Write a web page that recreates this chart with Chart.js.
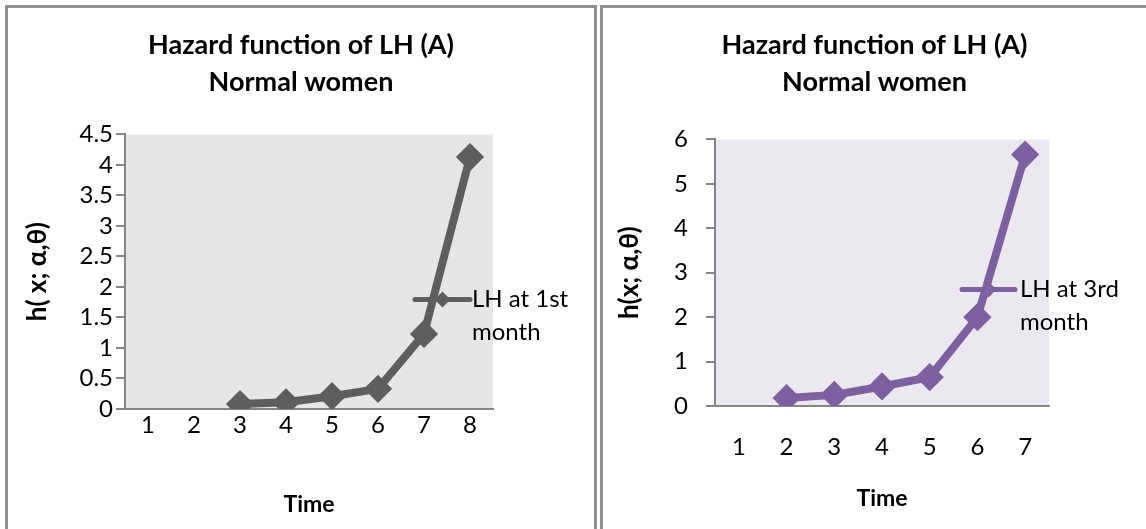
<!DOCTYPE html>
<html>
<head>
<meta charset="utf-8">
<script src="https://cdn.jsdelivr.net/npm/chart.js@4.4.1/dist/chart.umd.min.js"></script>
<style>
  html, body { margin: 0; padding: 0; background: #fff; overflow: hidden; width: 1146px; height: 529px; }
  .panel { position: absolute; top: 5px; border: 3px solid #8f8f8f; border-bottom: none; background: #fff; }
  #panelA { left: 5px; width: 586px; height: 521px; }
  #panelB { left: 600px; width: 543px; height: 521px; }
  canvas { display: block; }
</style>
</head>
<body>
<div class="panel" id="panelA"><canvas id="chartA" width="586" height="521"></canvas></div>
<div class="panel" id="panelB"><canvas id="chartB" width="543" height="521"></canvas></div>
<script>
// Shared title
const chartTitle = ['Hazard function of LH (A)', 'Normal women'];
const timeTitle = 'Time';

// LH at 1st month
const timeA = ['1', '2', '3', '4', '5', '6', '7', '8'];
const hazardA = [null, null, 0.08, 0.11, 0.21, 0.33, 1.23, 4.13];
const legendA = ['LH at 1st', 'month'];
const yTitleA = 'h( x; \u03b1,\u03b8)';
const yTicksA = ['0', '0.5', '1', '1.5', '2', '2.5', '3', '3.5', '4', '4.5'];
const yStepA = 0.5;

// LH at 3rd month
const timeB = ['1', '2', '3', '4', '5', '6', '7'];
const hazardB = [null, 0.18, 0.25, 0.44, 0.65, 2.0, 5.66];
const legendB = ['LH at 3rd', 'month'];
const yTitleB = 'h(x; \u03b1,\u03b8)';
const yTicksB = ['0', '1', '2', '3', '4', '5', '6'];
const yStepB = 1;

Chart.defaults.font.family = 'Lato, "DejaVu Sans", sans-serif';
Chart.defaults.color = '#000';

// Fills the plotting area with its background colour
const plotBackground = {
  id: 'plotBackground',
  beforeDraw(chart, args, opts) {
    const { ctx, chartArea: a } = chart;
    ctx.save();
    ctx.fillStyle = opts.color;
    ctx.fillRect(a.left, a.top, a.right - a.left, a.bottom - a.top);
    ctx.restore();
  }
};

// Legend entry drawn over the right edge of the plot: line, diamond, two text lines
const sideLegend = {
  id: 'sideLegend',
  afterDatasetsDraw(chart, args, o) {
    const { ctx, chartArea: a } = chart;
    const ds = chart.data.datasets[0];
    const y = a.top + o.dy;
    const x0 = a.right + o.lineStart, x1 = a.right + o.lineEnd;
    ctx.save();
    ctx.strokeStyle = ds.borderColor;
    ctx.lineWidth = 5;
    ctx.lineCap = 'round';
    ctx.beginPath();
    ctx.moveTo(x0, y);
    ctx.lineTo(x1, y);
    ctx.stroke();
    const cx = (x0 + x1) / 2, r = 8;
    ctx.fillStyle = ds.borderColor;
    ctx.beginPath();
    ctx.moveTo(cx - r, y); ctx.lineTo(cx, y - r); ctx.lineTo(cx + r, y); ctx.lineTo(cx, y + r);
    ctx.closePath();
    ctx.fill();
    ctx.fillStyle = '#000';
    ctx.font = '24px Lato, "DejaVu Sans", sans-serif';
    ctx.textAlign = 'left';
    ctx.textBaseline = 'middle';
    o.text.forEach((t, i) => ctx.fillText(t, a.right + o.textX, y + i * o.lineGap));
    ctx.restore();
  }
};

function makeChart(id, s) {
  const maxVal = s.step * (s.ticks.length - 1);
  return new Chart(document.getElementById(id), {
    type: 'line',
    data: {
      labels: s.labels,
      datasets: [{
        label: s.legend.join(' '),
        data: s.values,
        yAxisID: 'y',
        borderColor: s.color,
        backgroundColor: s.color,
        borderWidth: 8,
        tension: 0,
        pointStyle: 'rectRot',
        pointRadius: 12,
        pointBorderWidth: 3,
        pointBackgroundColor: s.color,
        pointBorderColor: s.color
      }]
    },
    options: {
      responsive: false,
      animation: false,
      layout: { padding: 0 },
      plugins: {
        legend: { display: false },
        tooltip: { enabled: false },
        title: {
          display: true,
          text: chartTitle,
          color: '#000',
          font: { size: 27, weight: 'bold', lineHeight: 1.37 },
          padding: { top: 18.5, bottom: s.titleGap }
        },
        plotBackground: { color: s.bg },
        sideLegend: s.legendPos
      },
      scales: {
        x: {
          offset: true,
          grid: { display: false, drawTicks: false },
          border: { display: true, color: '#868686', width: 2 },
          ticks: { font: { size: 24 }, padding: s.xTickPad, color: '#000' },
          title: { display: true, text: timeTitle, color: '#000',
                   font: { size: 23, weight: 'bold' }, padding: { top: 0, bottom: s.xTitlePad } },
          afterFit(sc) { sc.height = s.xHeight; }
        },
        y: {
          position: 'left',
          min: 0, max: maxVal,
          grid: { display: true, drawOnChartArea: false, drawTicks: true, tickLength: 9,
                  color: '#868686', lineWidth: 2 },
          border: { display: true, color: '#868686', width: 2 },
          ticks: {
            stepSize: s.step, autoSkip: false, font: { size: 24 }, padding: s.yTickPad, color: '#000',
            callback: (v) => s.ticks[Math.round(v / s.step)]
          },
          title: { display: true, text: s.yTitle, color: '#000',
                   font: { size: 26, weight: 'bold' }, padding: { top: s.yTitlePad, bottom: 0 } },
          afterFit(sc) { sc.width = s.yWidth; }
        },
        pad: {
          type: 'linear',
          position: 'right',
          display: true,
          grid: { display: false },
          border: { display: false },
          ticks: { display: false },
          afterFit(sc) { sc.width = s.rightSpace; }
        }
      }
    },
    plugins: [plotBackground, sideLegend]
  });
}

makeChart('chartA', {
  labels: timeA, values: hazardA, legend: legendA, yTitle: yTitleA, ticks: yTicksA, step: yStepA,
  color: '#5e5e5e', bg: '#e6e6e6',
  titleGap: 34, xHeight: 120, yWidth: 117, rightSpace: 101,
  xTickPad: 2, xTitlePad: 10.2, yTickPad: 3, yTitlePad: 14.4,
  legendPos: { text: legendA, dy: 165, lineStart: -78, lineEnd: -23, textX: -21, lineGap: 33 }
});

makeChart('chartB', {
  labels: timeB, values: hazardB, legend: legendB, yTitle: yTitleB, ticks: yTicksB, step: yStepB,
  color: '#7d60a0', bg: '#ebe8ef',
  titleGap: 39, xHeight: 123, yWidth: 112, rightSpace: 97,
  xTickPad: 26.6, xTitlePad: 16.2, yTickPad: 18, yTitlePad: 11.4,
  legendPos: { text: legendB, dy: 150, lineStart: -87, lineEnd: -34, textX: -29, lineGap: 33 }
});
</script>
</body>
</html>
